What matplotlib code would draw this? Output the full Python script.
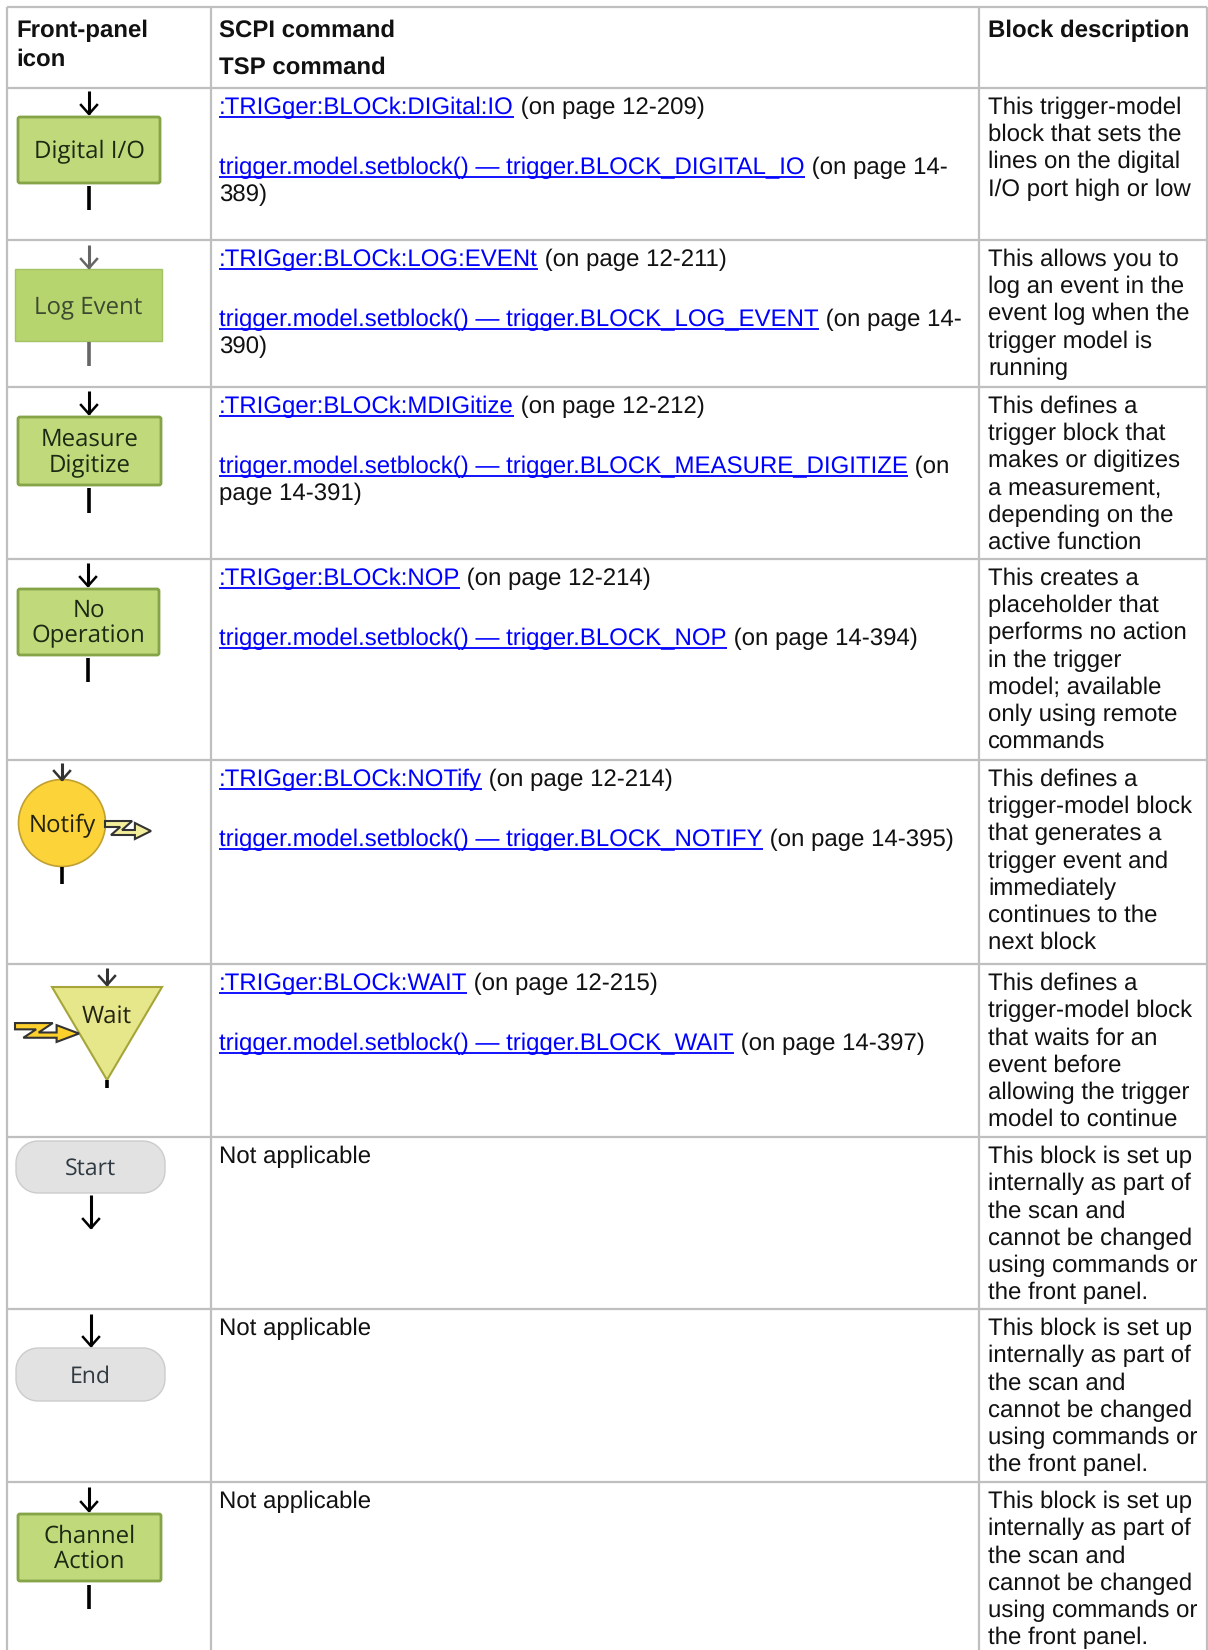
import numpy as np
import matplotlib
matplotlib.use('Agg')
import matplotlib.pyplot as plt
from matplotlib.patches import FancyBboxPatch, Rectangle, Circle, Polygon

# table text
headers = ['Front-panel', 'icon', 'SCPI command', 'TSP command', 'Block description']
scpi_cmds = [':TRIGger:BLOCk:DIGital:IO', ':TRIGger:BLOCk:LOG:EVENt', ':TRIGger:BLOCk:MDIGitize',
             ':TRIGger:BLOCk:NOP', ':TRIGger:BLOCk:NOTify', ':TRIGger:BLOCk:WAIT']
scpi_pages = [' (on page 12-209)', ' (on page 12-211)', ' (on page 12-212)',
              ' (on page 12-214)', ' (on page 12-214)', ' (on page 12-215)']
tsp_cmds = ['trigger.model.setblock() \u2014 trigger.BLOCK_DIGITAL_IO',
            'trigger.model.setblock() \u2014 trigger.BLOCK_LOG_EVENT',
            'trigger.model.setblock() \u2014 trigger.BLOCK_MEASURE_DIGITIZE',
            'trigger.model.setblock() \u2014 trigger.BLOCK_NOP',
            'trigger.model.setblock() \u2014 trigger.BLOCK_NOTIFY',
            'trigger.model.setblock() \u2014 trigger.BLOCK_WAIT']
tsp_pages = [' (on page 14-\n389)', ' (on page 14-\n390)', ' (on\npage 14-391)',
             ' (on page 14-394)', ' (on page 14-395)', ' (on page 14-397)']
internal = 'This block is set up\ninternally as part of\nthe scan and\ncannot be changed\nusing commands or\nthe front panel.'
descriptions = ['This trigger-model\nblock that sets the\nlines on the digital\nI/O port high or low',
                'This allows you to\nlog an event in the\nevent log when the\ntrigger model is\nrunning',
                'This defines a\ntrigger block that\nmakes or digitizes\na measurement,\ndepending on the\nactive function',
                'This creates a\nplaceholder that\nperforms no action\nin the trigger\nmodel; available\nonly using remote\ncommands',
                'This defines a\ntrigger-model block\nthat generates a\ntrigger event and\nimmediately\ncontinues to the\nnext block',
                'This defines a\ntrigger-model block\nthat waits for an\nevent before\nallowing the trigger\nmodel to continue',
                internal, internal, internal]
not_applicable = 'Not applicable'

row_tops = [88, 240, 387, 559, 760, 964, 1137, 1309, 1482]
col_lines = [7, 211, 979, 1207]
grid_col = '#bfbfbf'
link_col = '#0000ff'
green = '#c0da7b'
green_edge = '#85a347'
FS = 17.28
ICON_FS = 17.5
LINE = 27.2

plt.rcParams['font.family'] = ['Liberation Sans', 'DejaVu Sans']
plt.rcParams['text.hinting'] = 'none'
plt.rcParams['text.hinting_factor'] = 1

fig = plt.figure(figsize=(12.08, 16.5), dpi=100)
ax = fig.add_axes([0, 0, 1, 1])
ax.set_xlim(0, 1208)
ax.set_ylim(1650, 0)
ax.axis('off')
renderer = fig.canvas.get_renderer()


def txt(x, y, s, **kw):
    kw.setdefault('fontsize', FS)
    kw.setdefault('color', '#111111')
    return ax.text(x, y, s, va='baseline', ha='left', **kw)


def lines(x, y, s, **kw):
    for i, part in enumerate(s.split('\n')):
        txt(x, y + i * LINE, part, **kw)


def link_line(x, y, link, plain):
    t = txt(x, y, link, color=link_col)
    w = t.get_window_extent(renderer).width
    ax.plot([x, x + w], [y + 3, y + 3], color=link_col, lw=1.3, solid_capstyle='butt')
    parts = plain.split('\n')
    txt(x + w, y, parts[0])
    if len(parts) > 1:
        txt(x, y + LINE, parts[1])


def down_arrow(x, y0, y1, color='black'):
    ax.plot([x, x], [y0, y1], color=color, lw=2.2, solid_capstyle='butt')
    ax.plot([x - 8, x, x + 8], [y1 - 9, y1, y1 - 9], color=color, lw=1.8)


def stem(x, y0, y1, color='black'):
    ax.plot([x, x], [y0, y1], color=color, lw=2.6, solid_capstyle='butt')


def green_box(x0, y0, x1, y1, label, rounded=True):
    if rounded:
        ax.add_patch(FancyBboxPatch((x0 + 2, y0 + 2), x1 - x0 - 4, y1 - y0 - 4,
                                    boxstyle='round,pad=0,rounding_size=2',
                                    fc=green, ec=green_edge, lw=2))
        icon_label((x0 + x1) / 2, (y0 + y1) / 2, label)
    else:
        # the log event icon is a softer, blurred bitmap in the reference
        ax.add_patch(Rectangle((x0, y0), x1 - x0, y1 - y0, fc='#b6d56f', ec='#a3c265', lw=1))
        icon_label((x0 + x1) / 2, (y0 + y1) / 2, label, color='#3d4a30')


def icon_label(x, y, s, color='#1c2a14', size=ICON_FS):
    parts = s.split('\n')
    step = 25.5
    base = y + 8 - (len(parts) - 1) * step / 2
    for i, part in enumerate(parts):
        ax.text(x, base + i * step, part, ha='center', va='baseline', fontsize=size,
                family='Open Sans', color=color)


def pill(x0, y0, x1, y1, label):
    # stadium outline with true circular ends
    r = 22
    corners = [(x1 - r, y0 + r, -90), (x1 - r, y1 - r, 0), (x0 + r, y1 - r, 90), (x0 + r, y0 + r, 180)]
    pts = []
    for cx, cy, start in corners:
        a = np.radians(np.linspace(start, start + 90, 16))
        pts.extend(zip(cx + r * np.cos(a), cy + r * np.sin(a)))
    ax.add_patch(Polygon(pts, closed=True, fc='#e2e2e2', ec='#cccccc', lw=1))
    icon_label((x0 + x1) / 2, (y0 + y1) / 2, label, color='#2f3a42', size=16.5)


def bolt(x0, y0, x1, y1, fc, ec='#333333'):
    # lightning arrow, outline given as fractions of its box
    fx = [0, .59, .37, .65, .65, 1, .65, .65, .13, .33, 0]
    fy = [.05, .05, .5, .5, .15, .55, .95, .75, .75, .35, .35]
    pts = [(x0 + a * (x1 - x0), y0 + b * (y1 - y0)) for a, b in zip(fx, fy)]
    ax.add_patch(Polygon(pts, closed=True, fc=fc, ec=ec, lw=1.5, zorder=3))


# grid
for y in [7] + row_tops:
    ax.plot([7, 1207], [y, y], color=grid_col, lw=1.6, solid_capstyle='butt')
for x in col_lines:
    ax.plot([x, x], [7, 1650], color=grid_col, lw=1.6, solid_capstyle='butt')

# header
txt(16, 37, headers[0], fontweight='bold')
txt(16, 66, headers[1], fontweight='bold')
txt(219, 37, headers[2], fontweight='bold')
txt(219, 74, headers[3], fontweight='bold')
txt(988, 37, headers[4], fontweight='bold')

# command column
for i in range(6):
    top = row_tops[i]
    link_line(219, top + 26, scpi_cmds[i], scpi_pages[i])
    link_line(219, top + 86, tsp_cmds[i], tsp_pages[i])
for i in range(6, 9):
    txt(219, row_tops[i] + 26, not_applicable)

# description column
for top, d in zip(row_tops, descriptions):
    lines(988, top + 26, d)

# icons
down_arrow(89, 91, 114)
green_box(16, 115, 162, 185, 'Digital I/O')
stem(89, 186, 210)

down_arrow(89, 245, 268, color='#666666')
green_box(15, 269, 162, 341, 'Log Event', rounded=False)
stem(89, 342, 366, color='#666666')

down_arrow(89, 391, 414)
green_box(16, 415, 163, 487, 'Measure\nDigitize')
stem(89, 488, 513)

down_arrow(88, 563, 586)
green_box(16, 587, 161, 657, 'No\nOperation')
stem(88, 658, 682)

down_arrow(62, 763, 780, color='#333333')
ax.add_patch(Circle((62, 823), 43.5, fc='#fdd33a', ec='#c0a030', lw=1.2))
icon_label(62, 824, 'Notify', color='#222211')
stem(62, 867, 884)
bolt(105, 820, 151, 840, '#f3ee9c')

down_arrow(107, 968, 985, color='#333333')
ax.add_patch(Polygon([(52, 987), (162, 987), (107, 1080)], closed=True, fc='#e6e68a', ec='#a5a53a', lw=1.5))
icon_label(107, 1015, 'Wait', color='#222211')
stem(107, 1080, 1088)
bolt(15, 1022, 79, 1043, '#fdd02c')

pill(16, 1141, 165, 1193, 'Start')
down_arrow(91, 1195, 1228)

down_arrow(91, 1314, 1346)
pill(16, 1348, 165, 1401, 'End')

down_arrow(89, 1487, 1511)
green_box(16, 1512, 163, 1583, 'Channel\nAction')
stem(89, 1585, 1609)

fig.savefig('out.png', dpi=100, facecolor='white')
